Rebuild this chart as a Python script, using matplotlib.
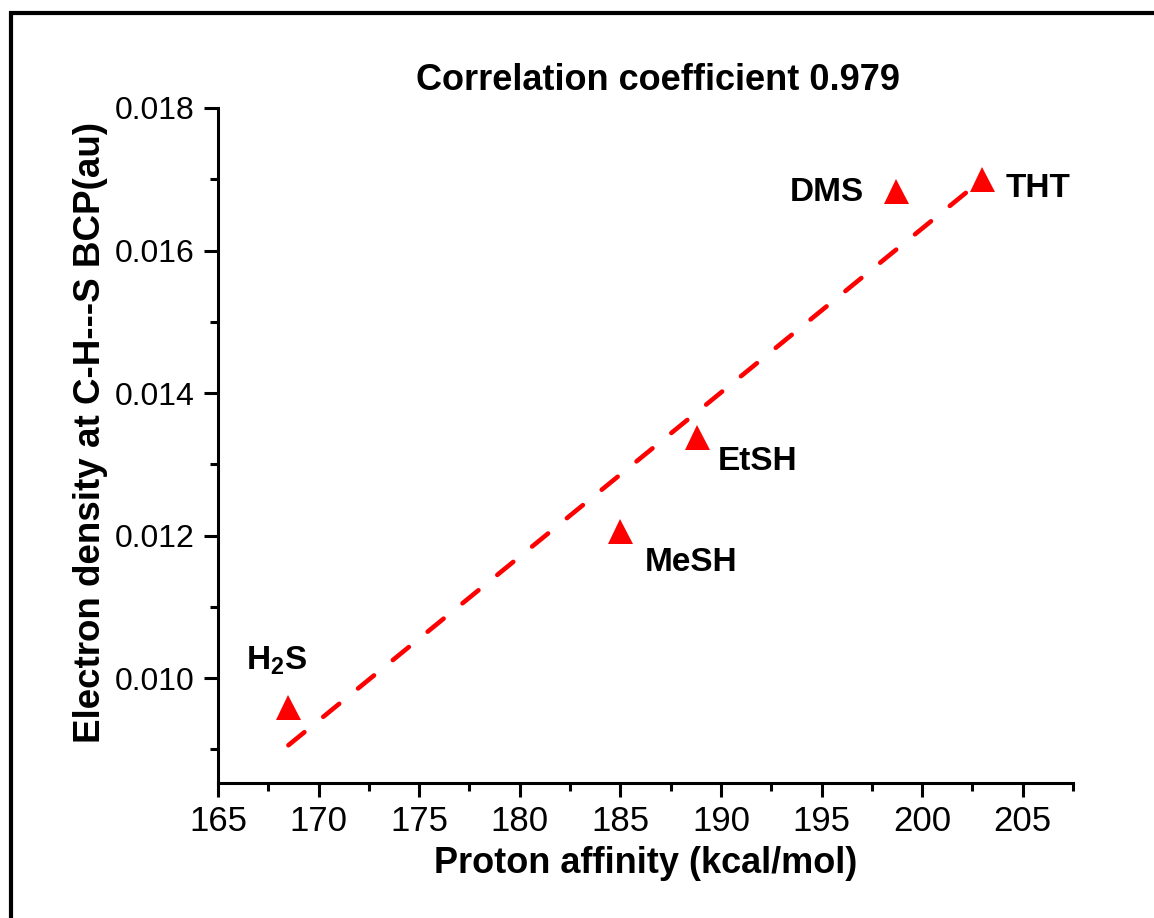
import numpy as np
import matplotlib
matplotlib.use("Agg")
import matplotlib.pyplot as plt
from matplotlib.patches import Rectangle
from matplotlib.ticker import MultipleLocator, FormatStrFormatter

plt.rcParams['font.family'] = ['Liberation Sans', 'DejaVu Sans']
plt.rcParams['mathtext.fontset'] = 'custom'
plt.rcParams['mathtext.rm'] = 'Liberation Sans'
plt.rcParams['mathtext.bf'] = 'Liberation Sans:bold'

# Data
molecules = [r"$\mathbf{H_2S}$", "MeSH", "EtSH", "DMS", "THT"]
proton_affinity = [168.5, 185.0, 188.8, 198.7, 203.0]        # kcal/mol
electron_density = [0.00960, 0.01207, 0.01338, 0.01684, 0.01701]  # au

# Linear fit line as drawn in the figure
fit_x = [168.5, 203.0]
fit_y = [0.00906, 0.01700]

# label offsets in pixels from each point
label_offsets = [(-12, 46), (71, -32), (61, -24), (-69, -2), (56, -10)]

RED = "#ff0000"

fig = plt.figure(figsize=(11.54, 9.18), dpi=100)
ax = fig.add_axes([218 / 1154, 1 - 783 / 918, (1073 - 218) / 1154, (783 - 108) / 918])

ax.plot(fit_x, fit_y, color=RED, lw=3.3, linestyle=(0, (4.5, 5.3)), dash_capstyle="round")
ax.plot(proton_affinity, electron_density, linestyle="none", marker="^",
        markersize=18, color=RED, markeredgewidth=0)

for name, x, y, off in zip(molecules, proton_affinity, electron_density, label_offsets):
    ax.annotate(name, (x, y), xytext=off, textcoords="offset pixels",
                ha="center", va="center", fontsize=24, fontweight="bold")

ax.set_xlim(165, 207.5)
ax.set_ylim(0.00853, 0.018)
ax.xaxis.set_major_locator(MultipleLocator(5))
ax.xaxis.set_minor_locator(MultipleLocator(2.5))
ax.yaxis.set_major_locator(MultipleLocator(0.002))
ax.yaxis.set_minor_locator(MultipleLocator(0.001))
ax.yaxis.set_major_formatter(FormatStrFormatter("%.3f"))

for side in ["top", "right"]:
    ax.spines[side].set_visible(False)
for side in ["left", "bottom"]:
    ax.spines[side].set_linewidth(2.2)
ax.tick_params(which="major", length=10, width=2.2, labelsize=23, pad=7)
ax.tick_params(axis="x", which="major", labelsize=25, pad=6)
ax.tick_params(which="minor", length=5.5, width=2.2)

ax.set_xlabel("Proton affinity (kcal/mol)", fontsize=26, fontweight="bold")
ax.xaxis.set_label_coords(0.5, -0.094)
ax.set_ylabel("Electron density at C-H---S BCP(au)", fontsize=26.5, fontweight="bold")
ax.yaxis.set_label_coords(-0.129, 0.52)

fig.text(658 / 1154, 1 - 80 / 918, "Correlation coefficient 0.979",
         ha="center", va="center", fontsize=26, fontweight="bold")

# black frame around the figure (right and bottom run off the edge)
frame = Rectangle((11.5 / 1154, -0.2), 1.3, 1.2 - 13 / 918, transform=fig.transFigure,
                  fill=False, edgecolor="black", linewidth=3.0, clip_on=False)
fig.patches.append(frame)

fig.savefig("out.png", dpi=100)
